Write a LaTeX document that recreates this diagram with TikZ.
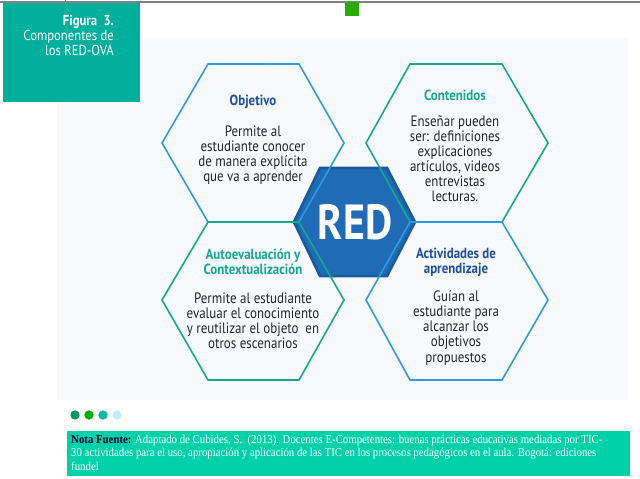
\documentclass[tikz,border=0pt]{standalone}
\usepackage{fontspec}
\setmainfont{PT Sans}
\newfontfamily\serifnote{Liberation Serif}
\definecolor{hexblue}{HTML}{2E9BE0}
\definecolor{hexteal}{HTML}{14A88F}
\definecolor{titblue}{HTML}{1B4F9E}
\definecolor{redfill}{HTML}{1F6BB5}
\definecolor{rededge}{HTML}{1A5A9E}
\definecolor{boxteal}{HTML}{00B09C}
\definecolor{noteteal}{HTML}{00D1A8}
\definecolor{panel}{HTML}{F7F9FD}
\begin{document}
\begin{tikzpicture}[x=0.75pt,y=-0.75pt,
  hexline/.style={line width=1.2pt},
  title/.style={font=\bfseries\fontsize{11}{11.5}\selectfont,align=center,xscale=0.88},
  body/.style={font=\fontsize{11.3}{11.3}\selectfont,align=center,xscale=0.86,text=black!85},
  dot/.style={circle,inner sep=0pt,minimum size=7pt}]
\useasboundingbox (0,0) rectangle (640,479);
\fill[white] (0,0) rectangle (640,479);
\fill[panel] (57,39) rectangle (628,400);
\draw[gray,line width=0.8pt] (0,2) -- (640,2);
\draw[gray] (65,0) -- (65,3);
\fill[green!60!black!80!lime] (345,2) rectangle (359,16);
\fill[boxteal] (3,3) rectangle (140,102);
\node[anchor=north east,align=right,text=white,font=\fontsize{10.8}{11.2}\selectfont,xscale=0.88] (cap) at (118,11)
 {{\bfseries Figura\ \ 3.}\\Componentes de\\los RED-OVA};
% central hexagon
\draw[fill=redfill,draw=rededge,line width=2pt] (320,168) -- (387,168) -- (415,222) -- (387,276) -- (320,276) -- (294,222) -- cycle;
\node[text=white,font=\bfseries\fontsize{37}{37}\selectfont,xscale=0.85] (red) at (355,222) {RED};
% outer hexagons
\draw[hexline,hexblue] (208,64) -- (299,64) -- (344,143) -- (299,222) -- (208,222) -- (162,143) -- cycle;
\draw[hexline,hexteal] (410,64) -- (502,64) -- (548,143) -- (502,222) -- (410,222) -- (366,143) -- cycle;
\draw[hexline,hexteal] (208,222) -- (299,222) -- (344,300) -- (299,380) -- (208,380) -- (162,300) -- cycle;
\draw[hexline,hexblue] (410,222) -- (502,222) -- (548,300) -- (502,380) -- (410,380) -- (366,300) -- cycle;
% texts
\node[title,text=titblue] (t1) at (253,102) {Objetivo};
\node[body] (b1) at (253,155) {Permite al\\estudiante conocer\\de manera explícita\\que va a aprender};
\node[title,text=hexteal] (t2) at (455,95) {Contenidos};
\node[body] (b2) at (455,159) {Enseñar pueden\\ser: definiciones\\explicaciones\\artículos, videos\\entrevistas\\lecturas.};
\node[title,text=hexteal] (t3) at (253,262) {Autoevaluación y\\Contextualización};
\node[body] (b3) at (253,321) {Permite al estudiante\\evaluar el conocimiento\\y reutilizar el objeto\ \ en\\otros escenarios};
\node[title,text=titblue] (t4) at (456,262) {Actividades de\\aprendizaje};
\node[body] (b4) at (456,328) {Guían al\\estudiante para\\alcanzar los\\objetivos\\propuestos};
% dots
\node[dot,fill=teal!80!green] (d1) at (75,415) {};
\node[dot,fill=green!70!black] (d2) at (89,415) {};
\node[dot,fill=noteteal!90!black] (d3) at (103,415) {};
\node[dot,fill=blue!25!cyan!25] (d4) at (117,415) {};
% note
\fill[noteteal] (67,431) rectangle (630,476);
\node[anchor=north west,align=left,font=\serifnote\fontsize{9}{10}\selectfont,text=white,inner sep=0pt,xscale=0.9] (note) at (71,435)
 {\textcolor{black!85!blue}{\bfseries Nota Fuente:} Adaptado de Cubides, S.\ \ (2013). Docentes E-Competentes: buenas prácticas educativas mediadas por TIC-\\30 actividades para el uso, apropiación y aplicación de las TIC en los procesos pedagógicos en el aula. Bogotá: ediciones\\fundel};
\end{tikzpicture}
\end{document}
